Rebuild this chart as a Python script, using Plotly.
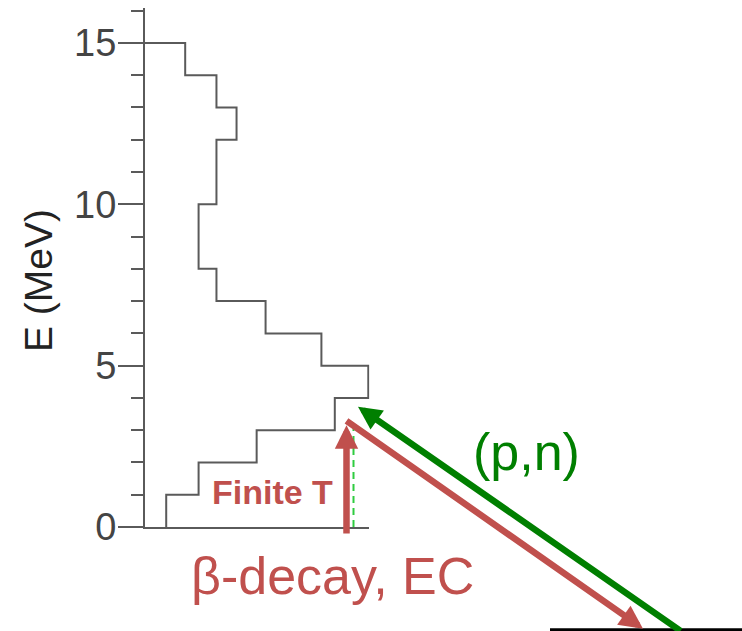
import plotly.graph_objects as go

# Gamow-Teller strength (arbitrary units) in 1-MeV excitation-energy bins: 0-1, 1-2, ... 14-15 MeV
bin_low_mev = list(range(0, 15))
strength = [0.95, 2.4, 5.0, 8.5, 10.0, 7.9, 5.4, 3.2, 2.4, 2.4, 3.2, 3.2, 4.1, 3.2, 1.8]

y_tick_vals = [0, 5, 10, 15]
y_tick_text = ["0", "5", "10", "15"]

# Level scheme (MeV on the same energy scale as the histogram)
E_PARENT = -3.2      # parent ground state
E_FED = 3.35         # state reached by the transitions
E_THERMAL_FROM = -0.2

# ---- page geometry (pixels) ----
W, H = 742, 631
AXIS_X_PX = 145.0          # position of the energy axis
Y0_PX = 527.0              # E = 0
TOP_PX = 8.0               # top end of the energy axis
PX_PER_UNIT = 22.33        # strength scale
PX_PER_MEV = 32.27         # energy scale
X_MAX = 10.05

RED = "#c0504d"
GREEN = "#007f00"
LIGHT_GREEN = "#2ecc40"
GRAY = "#5a5a5a"
FONT = "Arial, Liberation Sans, sans-serif"

# step outline of the distribution: vertical edge at each bin's strength, closing back to the axis at 15 MeV
step_x = strength + [0.0]
step_y = bin_low_mev + [15]

fig = go.Figure()
fig.add_trace(go.Scatter(
    x=step_x, y=step_y, mode="lines", line=dict(color=GRAY, width=2, shape="vh"),
    hoverinfo="skip", showlegend=False, xaxis="x", yaxis="y",
))

# full-page overlay axes for the transition arrows, sharing the same scales
x2_range = [(0 - AXIS_X_PX) / PX_PER_UNIT, (W - AXIS_X_PX) / PX_PER_UNIT]
y2_range = [(Y0_PX - H) / PX_PER_MEV, Y0_PX / PX_PER_MEV]

def ux(px):
    return (px - AXIS_X_PX) / PX_PER_UNIT

def uy(py):
    return (Y0_PX - py) / PX_PER_MEV

# parent ground-state level
fig.add_trace(go.Scatter(
    x=[ux(550), ux(W + 5)], y=[E_PARENT, E_PARENT], mode="lines",
    line=dict(color="black", width=4), hoverinfo="skip", showlegend=False,
    xaxis="x2", yaxis="y2",
))
# thermally populated start (dashed)
fig.add_trace(go.Scatter(
    x=[ux(353.5), ux(353.5)], y=[0, E_FED - 0.3], mode="lines",
    line=dict(color=LIGHT_GREEN, width=2, dash="7px,5px"), hoverinfo="skip", showlegend=False,
    xaxis="x2", yaxis="y2",
))

x_up = ux(346.5)
arrows = [
    # finite-temperature excitation
    dict(x=x_up, y=E_FED - 0.2, ax=x_up, ay=E_THERMAL_FROM - 0.05, color=RED),
    # beta decay / electron capture down to the parent ground state
    dict(x=ux(643), y=E_PARENT + 0.05, ax=ux(345), ay=E_FED - 0.03, color=RED),
    # (p,n) charge-exchange up to the fed state
    dict(x=ux(358), y=E_FED + 0.38, ax=ux(682), ay=E_PARENT - 0.05, color=GREEN),
]
for a in arrows:
    fig.add_annotation(
        x=a["x"], y=a["y"], ax=a["ax"], ay=a["ay"],
        xref="x2", yref="y2", axref="x2", ayref="y2",
        text="", showarrow=True, arrowhead=2, arrowsize=0.72, arrowwidth=6.5,
        arrowcolor=a["color"], standoff=0, startstandoff=0,
    )

fig.add_annotation(x=ux(272), y=uy(492), xref="x2", yref="y2",
                   text="<b>Finite T</b>", showarrow=False,
                   font=dict(family=FONT, size=34, color=RED))
fig.add_annotation(x=ux(332), y=uy(576), xref="x2", yref="y2",
                   text="β-decay, EC", showarrow=False,
                   font=dict(family=FONT, size=52, color=RED))
fig.add_annotation(x=ux(526), y=uy(452), xref="x2", yref="y2",
                   text="(p,n)", showarrow=False,
                   font=dict(family=FONT, size=52, color=GREEN))
# energy-axis title
fig.add_annotation(x=ux(38), y=uy(281), xref="x2", yref="y2",
                   text="E (MeV)", textangle=-90, showarrow=False,
                   font=dict(family=FONT, size=39, color="#222222"))

x_dom = [AXIS_X_PX / W, (AXIS_X_PX + X_MAX * PX_PER_UNIT) / W]
y_dom = [(H - Y0_PX) / H, (H - TOP_PX) / H]
y_max = (Y0_PX - TOP_PX) / PX_PER_MEV

fig.update_layout(
    width=W, height=H, autosize=False,
    margin=dict(l=0, r=0, t=0, b=0, pad=0),
    paper_bgcolor="white", plot_bgcolor="rgba(0,0,0,0)",
    showlegend=False,
    xaxis=dict(
        domain=x_dom, range=[0, X_MAX], anchor="y", automargin=False,
        showline=True, linecolor=GRAY, linewidth=2,
        showgrid=False, zeroline=False, ticks="", showticklabels=False, fixedrange=True,
    ),
    yaxis=dict(
        domain=y_dom, range=[0, y_max], anchor="x", automargin=False,
        showline=True, linecolor=GRAY, linewidth=2,
        showgrid=False, zeroline=False,
        tickmode="array", tickvals=y_tick_vals, ticktext=y_tick_text,
        ticks="outside", ticklen=25, tickwidth=2, tickcolor=GRAY,
        minor=dict(dtick=1, ticks="outside", ticklen=12, tickwidth=2, tickcolor=GRAY, showgrid=False),
        tickfont=dict(family=FONT, size=38, color="#444444"),
        ticklabelstandoff=-6,
        fixedrange=True,
    ),
    xaxis2=dict(domain=[0, 1], range=x2_range, anchor="y2", visible=False,
                automargin=False, fixedrange=True),
    yaxis2=dict(domain=[0, 1], range=y2_range, anchor="x2", visible=False,
                automargin=False, fixedrange=True),
)

fig.write_html("out.html")
